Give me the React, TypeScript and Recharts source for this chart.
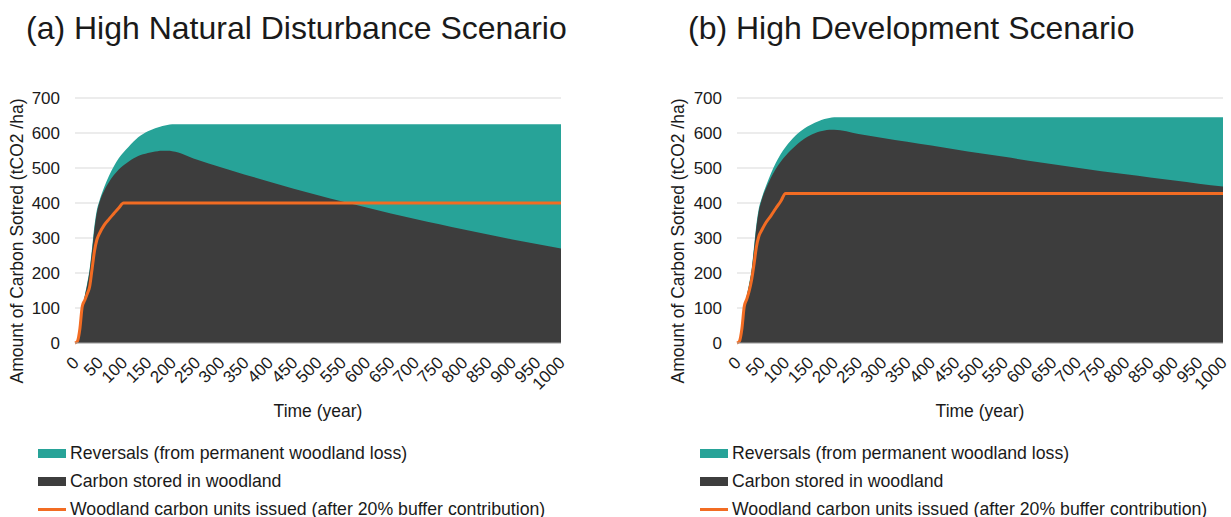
import React from "react";
import { ComposedChart, Area, Line, XAxis, YAxis, CartesianGrid } from "recharts";

const years = [
  0, 5, 10, 15, 20, 25, 30, 35, 40, 45, 50,
  60, 70, 80, 90, 100, 110, 120, 130, 140, 150, 160, 170, 180, 190, 200,
  250, 300, 350, 400, 450, 500, 550, 600, 650, 700, 750, 800, 850, 900, 950, 1000,
];

// (a) high natural disturbance
const totalA = [
  0, 5, 35, 95, 135, 170, 210, 270, 335, 380, 405,
  445, 478, 505, 528, 545, 560, 575, 588, 597, 605, 611, 616, 620, 623, 625,
  625, 625, 625, 625, 625, 625, 625, 625, 625, 625, 625, 625, 625, 625, 625, 625,
];
const carbonA = [
  0, 5, 33, 92, 132, 165, 205, 262, 325, 372, 400,
  435, 460, 480, 496, 508, 518, 527, 534, 539, 543, 546, 548, 549, 549, 548,
  524, 502, 481, 461, 441, 422, 404, 387, 370, 354, 339, 324, 310, 296, 283, 270,
];
const unitsA = [
  0, 5, 40, 105, 122, 140, 160, 210, 262, 295, 312,
  337, 354, 370, 386, 400, 400, 400, 400, 400, 400, 400, 400, 400, 400, 400,
  400, 400, 400, 400, 400, 400, 400, 400, 400, 400, 400, 400, 400, 400, 400, 400,
];

// (b) high development
const totalB = [
  0, 5, 35, 95, 135, 170, 210, 275, 340, 385, 410,
  450, 485, 515, 540, 560, 577, 592, 604, 614, 622, 629, 635, 640, 643, 645,
  645, 645, 645, 645, 645, 645, 645, 645, 645, 645, 645, 645, 645, 645, 645, 645,
];
const carbonB = [
  0, 5, 33, 92, 132, 165, 205, 268, 332, 378, 405,
  443, 473, 498, 518, 535, 550, 563, 575, 585, 593, 599, 604, 607, 609, 609,
  597, 586, 575, 564, 553, 542, 532, 521, 511, 501, 491, 482, 473, 464, 455, 447,
];
const unitsB = [
  0, 5, 40, 105, 125, 148, 180, 225, 275, 305, 320,
  345, 364, 385, 405, 427, 427, 427, 427, 427, 427, 427, 427, 427, 427, 427,
  427, 427, 427, 427, 427, 427, 427, 427, 427, 427, 427, 427, 427, 427, 427, 427,
];

const xTicks = [0, 50, 100, 150, 200, 250, 300, 350, 400, 450, 500, 550, 600, 650, 700, 750, 800, 850, 900, 950, 1000];
const yTicks = [0, 100, 200, 300, 400, 500, 600, 700];

const legendLabels = [
  "Reversals (from permanent woodland loss)",
  "Carbon stored in woodland",
  "Woodland carbon units issued (after 20% buffer contribution)",
];

const TEAL = "#27A398";
const DARK = "#3D3D3D";
const ORANGE = "#F26C23";
const FONT = "'Liberation Sans', Arial, sans-serif";
const TEXT = "#1a1a1a";

function buildRows(total: number[], carbon: number[], units: number[]) {
  return years.map((year, i) => ({ year, total: total[i], carbon: carbon[i], units: units[i] }));
}

const XTick = (props: any) => {
  const { x, y, payload } = props;
  return (
    <text
      x={x + 1}
      y={y}
      transform={`rotate(-45 ${x + 1} ${y})`}
      textAnchor="end"
      dominantBaseline="central"
      fontSize={17}
      fontFamily={FONT}
      fill={TEXT}
    >
      {payload.value}
    </text>
  );
};

const YTitle = () => (
  <text
    x={17}
    y={241}
    transform="rotate(-90 17 241)"
    textAnchor="middle"
    dominantBaseline="central"
    fontSize={17.5}
    fontFamily={FONT}
    fill={TEXT}
  >
    Amount of Carbon Sotred (tCO2 /ha)
  </text>
);

const XTitle = ({ cx }: { cx: number }) => (
  <text x={cx} y={411} textAnchor="middle" dominantBaseline="central" fontSize={17.5} fontFamily={FONT} fill={TEXT}>
    Time (year)
  </text>
);

function Legend3({ left }: { left: number }) {
  const rows = [453, 481, 509];
  return (
    <>
      {legendLabels.map((label, i) => (
        <div key={label} style={{ position: "absolute", left, top: rows[i] - 12, height: 24, display: "flex", alignItems: "center" }}>
          {i < 2 ? (
            <div style={{ width: 28, height: 9, background: i === 0 ? TEAL : DARK }} />
          ) : (
            <div style={{ width: 28, height: 3, background: ORANGE }} />
          )}
          <span style={{ marginLeft: 4, fontSize: 17.7, fontFamily: FONT, color: TEXT, whiteSpace: "nowrap" }}>{label}</span>
        </div>
      ))}
    </>
  );
}

function Panel({
  title,
  left,
  width,
  yWidth,
  right,
  titleLeft,
  rows,
}: {
  title: string;
  left: number;
  width: number;
  yWidth: number;
  right: number;
  titleLeft: number;
  rows: any[];
}) {
  const cx = yWidth + (width - yWidth - right) / 2;
  return (
    <>
      <div
        style={{
          position: "absolute",
          left: titleLeft,
          top: 12,
          fontSize: 32,
          lineHeight: "32px",
          fontFamily: FONT,
          color: TEXT,
          whiteSpace: "nowrap",
        }}
      >
        {title}
      </div>
      <div style={{ position: "absolute", left, top: 0 }}>
        <ComposedChart width={width} height={430} data={rows} margin={{ top: 98, right, left: 0, bottom: 0 }}>
          <CartesianGrid vertical={false} stroke="#d9d9d9" />
          <XAxis
            dataKey="year"
            type="number"
            domain={[0, 1000]}
            ticks={xTicks}
            interval={0}
            height={87}
            tickLine={false}
            tickSize={0}
            tickMargin={17}
            axisLine={{ stroke: "#a6a6a6" }}
            tick={<XTick />}
            label={<XTitle cx={cx} />}
          />
          <YAxis
            domain={[0, 700]}
            ticks={yTicks}
            width={yWidth}
            axisLine={false}
            tickLine={false}
            tickSize={0}
            tickMargin={15}
            tick={{ fontSize: 17, fontFamily: FONT, fill: TEXT }}
            label={<YTitle />}
          />
          <Area type="monotone" dataKey="total" stroke="none" fill={TEAL} fillOpacity={1} isAnimationActive={false} />
          <Area type="monotone" dataKey="carbon" stroke="none" fill={DARK} fillOpacity={1} isAnimationActive={false} />
          <Line type="monotone" dataKey="units" stroke={ORANGE} strokeWidth={3} dot={false} isAnimationActive={false} />
        </ComposedChart>
      </div>
    </>
  );
}

export default function App() {
  const rowsA = buildRows(totalA, carbonA, unitsA);
  const rowsB = buildRows(totalB, carbonB, unitsB);
  return (
    <div style={{ position: "absolute", left: 0, top: 0, width: 1231, height: 517, background: "#fff", overflow: "hidden" }}>
      <Panel title="(a) High Natural Disturbance Scenario" left={0} width={600} yWidth={75} right={39} titleLeft={26} rows={rowsA} />
      <Panel title="(b) High Development Scenario" left={661} width={570} yWidth={76} right={8} titleLeft={688} rows={rowsB} />
      <Legend3 left={38} />
      <Legend3 left={700} />
    </div>
  );
}
